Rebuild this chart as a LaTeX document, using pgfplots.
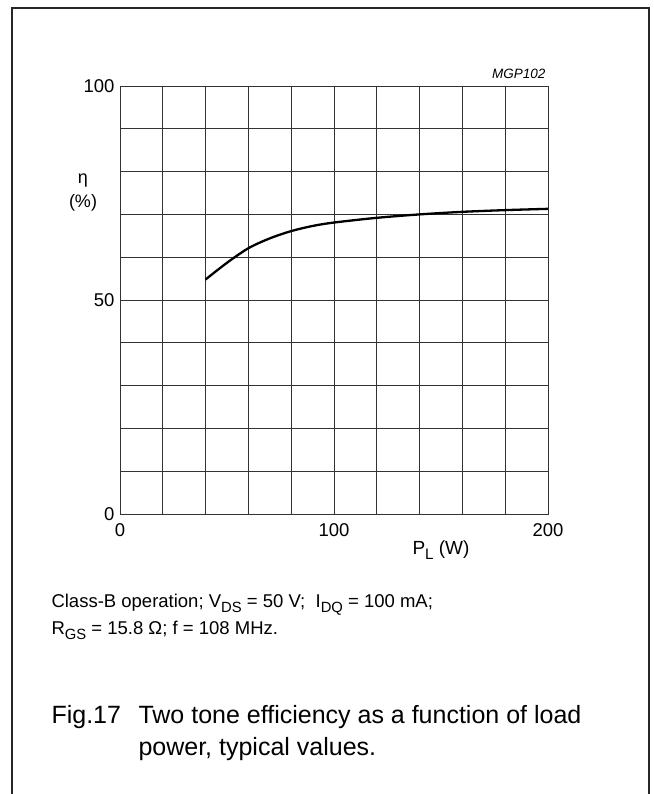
\documentclass[border=0pt]{standalone}
\usepackage{fontspec}
\setmainfont{Liberation Sans}
\usepackage{pgfplots}
\pgfplotsset{compat=1.18}
\newcommand{\sub}[1]{\raisebox{-0.28em}{\fontsize{0.8em}{0.8em}\selectfont #1}}
\begin{document}
\begin{tikzpicture}[x=1pt,y=1pt]
\path[use as bounding box] (0pt,0pt) rectangle (653pt,-794pt);
\draw[line width=1.4pt, black!85] (12pt,-794pt) -- (12pt,-8pt) -- (649pt,-8pt) -- (649pt,-794pt);
\begin{axis}[at={(120pt,-514pt)}, anchor=south west, scale only axis,
  width=428pt, height=428pt,
  xmin=0, xmax=200, ymin=0, ymax=100,
  xtick={0,100,200}, ytick={0,50,100},
  minor xtick={20,40,...,180}, minor ytick={10,20,...,90},
  grid=both,
  major grid style={black!80, line width=0.7pt},
  minor grid style={black!80, line width=0.7pt},
  axis line style={black!80, line width=0.7pt},
  major tick length=0pt, minor tick length=0pt,
  tick label style={font=\fontsize{18.5}{19}\selectfont},
  /pgf/number format/assume math mode=true,
  xticklabel style={yshift=-6pt},
  yticklabel style={xshift=-2pt},
  clip=false]
\addplot[black, line width=2.3pt, smooth, tension=0.5] coordinates {
(40,54.8) (50,58.7) (60,62.1) (70,64.4) (80,66.1) (90,67.3) (100,68.1) (120,69.2) (140,70.0) (160,70.6) (180,71.0) (200,71.3)};
\end{axis}
\node[anchor=east, font=\itshape\fontsize{13.5}{14}\selectfont] at (549pt,-74pt) {MGP102};
\node[font=\fontsize{18}{18}\selectfont] at (83pt,-181pt) {η};
\node[font=\fontsize{18}{18}\selectfont] at (83pt,-203pt) {(\%)};
\node[anchor=base, font=\fontsize{19}{19}\selectfont] at (441pt,-554pt) {P\sub{L} (W)};
\node[anchor=base west, font=\fontsize{18.5}{18}\selectfont] at (48pt,-607pt) {Class-B operation; V\sub{DS} = 50 V;\ \ I\sub{DQ} = 100 mA;};
\node[anchor=base west, font=\fontsize{18.5}{18}\selectfont] at (48pt,-634pt) {R\sub{GS} = 15.8 Ω; f = 108 MHz.};
\node[anchor=base west, font=\fontsize{25}{24}\selectfont] at (48pt,-723pt) {Fig.17};
\node[anchor=base west, font=\fontsize{25}{24}\selectfont] at (135pt,-723pt) {Two tone efficiency as a function of load};
\node[anchor=base west, font=\fontsize{25}{24}\selectfont] at (135pt,-755pt) {power, typical values.};
\end{tikzpicture}
\end{document}
